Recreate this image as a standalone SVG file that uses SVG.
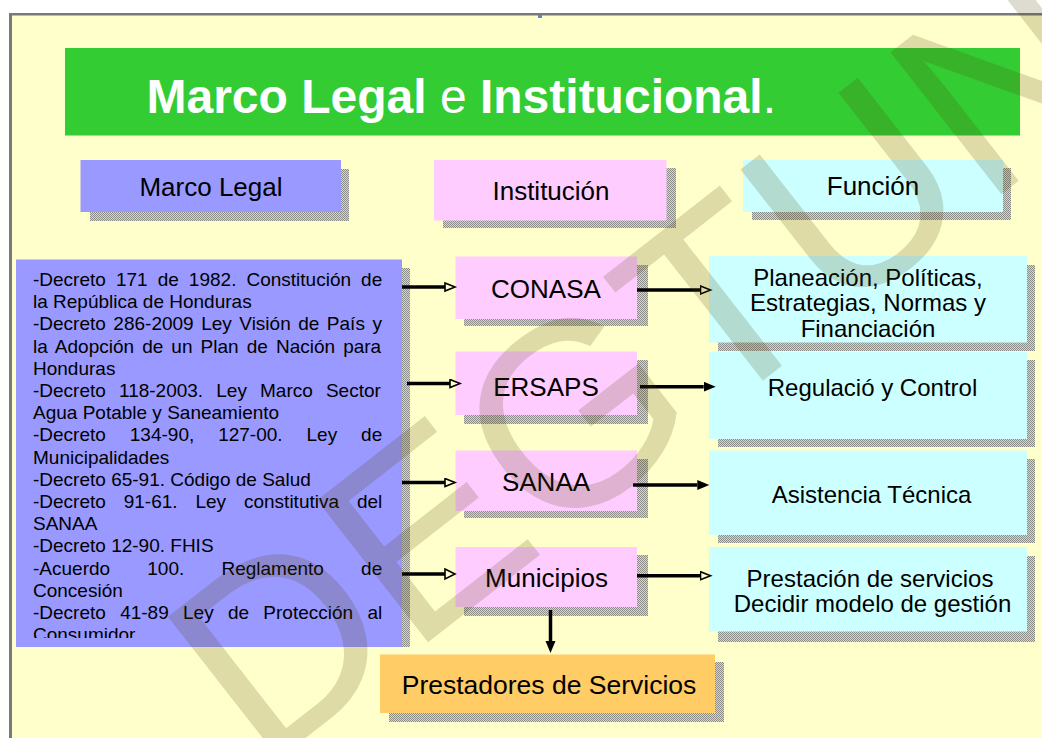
<svg xmlns="http://www.w3.org/2000/svg" width="1042" height="738" viewBox="0 0 1042 738">
<defs>
<pattern id="dots" width="2" height="2" patternUnits="userSpaceOnUse">
<rect width="2" height="2" fill="#d6d6cc"/>
<rect width="1" height="1" fill="#8c8c88"/>
<rect x="1" y="1" width="1" height="1" fill="#8c8c88"/>
</pattern>
<marker id="ah" markerUnits="userSpaceOnUse" markerWidth="14" markerHeight="12" refX="1" refY="5" orient="auto">
<path d="M1,1 L11,5 L1,9 z" fill="#ffffcc" stroke="#000" stroke-width="1.6"/>
</marker>
<marker id="ahb" markerUnits="userSpaceOnUse" markerWidth="14" markerHeight="14" refX="1" refY="6" orient="auto">
<path d="M1,1 L11,6 L1,11 z" fill="#ffffcc" stroke="#000" stroke-width="1.6"/>
</marker>
<marker id="as" markerUnits="userSpaceOnUse" markerWidth="14" markerHeight="12" refX="0" refY="5" orient="auto">
<path d="M0,0 L12,5 L0,10 z" fill="#000"/>
</marker>
<clipPath id="clipMain"><rect x="16" y="259" width="386" height="379"/></clipPath>
</defs>
<style>
text{font-family:"Liberation Sans",Arial,sans-serif;fill:#000}
.title{font-size:48px;font-weight:bold;fill:#fff}
.hdr{font-size:26px;text-anchor:middle}
.inst{font-size:26px;text-anchor:middle}
.fn{font-size:24px;text-anchor:middle}
.law{font-size:19px}
.sh{fill:url(#dots)}
.blue{fill:#9999ff}
.pink{fill:#ffccff}
.cyan{fill:#ccffff}
.orange{fill:#ffcc66}
.conn path{fill:none;stroke:#000;stroke-width:3.5}
.wm{font-size:262px;fill:#4d4000;opacity:0.18}
</style>
<rect width="1042" height="738" fill="#ffffff"/>
<rect x="9" y="13" width="1033" height="725" fill="#ffffcc"/>
<rect x="9" y="13" width="1033" height="2.5" fill="#7a7a7a"/>
<rect x="9" y="13" width="3" height="725" fill="#7a7a7a"/>
<rect x="538" y="15" width="4" height="3" fill="#6a80b8"/>

<g id="title">
<rect x="65" y="48" width="955" height="87.5" fill="#33cc33"/>
<text x="146.5" y="112.5" class="title">Marco Legal <tspan font-weight="normal">e</tspan> Institucional<tspan font-weight="normal">.</tspan></text>
</g>

<g id="hdr-marco">
<rect x="90" y="169" width="259" height="52" class="sh"/>
<rect x="80.5" y="160" width="260.5" height="52" class="blue"/>
<text x="211" y="195.5" class="hdr">Marco Legal</text>
</g>
<g id="hdr-inst">
<rect x="443" y="168" width="233" height="60" class="sh"/>
<rect x="434" y="160" width="232.5" height="60.5" class="pink"/>
<text x="551" y="200" class="hdr">Institución</text>
</g>
<g id="hdr-func">
<rect x="752" y="168" width="259" height="52" class="sh"/>
<rect x="743" y="160" width="260" height="52" class="cyan"/>
<text x="873" y="194.5" class="hdr">Función</text>
</g>

<g id="marco-legal">
<rect x="402" y="268" width="8" height="379" class="sh"/>
<rect x="16" y="259.5" width="386" height="387.5" class="blue"/>
<g clip-path="url(#clipMain)">
<text x="33" y="286" class="law" word-spacing="4.78">-Decreto 171 de 1982. Constitución de</text>
<text x="33" y="308.2" class="law">la República de Honduras</text>
<text x="33" y="330.4" class="law" word-spacing="2.23">-Decreto 286-2009 Ley Visión de País y</text>
<text x="33" y="352.6" class="law" word-spacing="2.81">la Adopción de un Plan de Nación para</text>
<text x="33" y="374.8" class="law">Honduras</text>
<text x="33" y="397" class="law" word-spacing="7.84">-Decreto 118-2003. Ley Marco Sector</text>
<text x="33" y="419.2" class="law">Agua Potable y Saneamiento</text>
<text x="33" y="441.4" class="law" word-spacing="18.65">-Decreto 134-90, 127-00. Ley de</text>
<text x="33" y="463.6" class="law">Municipalidades</text>
<text x="33" y="485.8" class="law">-Decreto 65-91. Código de Salud</text>
<text x="33" y="508" class="law" word-spacing="12.59">-Decreto 91-61. Ley constitutiva del</text>
<text x="33" y="530.2" class="law">SANAA</text>
<text x="33" y="552.4" class="law">-Decreto 12-90. FHIS</text>
<text x="33" y="574.6" class="law" word-spacing="31.9">-Acuerdo 100. Reglamento de</text>
<text x="33" y="596.8" class="law">Concesión</text>
<text x="33" y="619" class="law" word-spacing="9.01">-Decreto 41-89 Ley de Protección al</text>
<text x="33" y="641.2" class="law">Consumidor</text>
</g>
</g>

<g id="conasa">
<rect x="464" y="265" width="184" height="61" class="sh"/>
<rect x="455.5" y="256.5" width="181.5" height="62.5" class="pink"/>
<text x="546" y="298" class="inst">CONASA</text>
</g>
<g id="ersaps">
<rect x="464" y="360" width="184" height="64" class="sh"/>
<rect x="455.5" y="351.5" width="181.5" height="63.5" class="pink"/>
<text x="546" y="395.5" class="inst">ERSAPS</text>
</g>
<g id="sanaa">
<rect x="464" y="459" width="184" height="59" class="sh"/>
<rect x="455.5" y="450.5" width="181.5" height="60.5" class="pink"/>
<text x="546" y="490.5" class="inst">SANAA</text>
</g>
<g id="municipios">
<rect x="464" y="555" width="184" height="61" class="sh"/>
<rect x="455.5" y="547" width="181.5" height="60" class="pink"/>
<text x="546.5" y="586.5" class="inst">Municipios</text>
</g>

<g id="f-planeacion">
<rect x="718" y="265" width="317" height="86" class="sh"/>
<rect x="709" y="256" width="318" height="86.5" class="cyan"/>
<text x="868" y="285.5" class="fn">Planeación, Políticas,</text>
<text x="868" y="311" class="fn">Estrategias, Normas y</text>
<text x="868" y="336.5" class="fn">Financiación</text>
</g>
<g id="f-regulacion">
<rect x="718" y="360" width="317" height="87" class="sh"/>
<rect x="709" y="351.5" width="318" height="87.5" class="cyan"/>
<text x="872.5" y="396" class="fn">Regulació y Control</text>
</g>
<g id="f-asistencia">
<rect x="718" y="459" width="317" height="84" class="sh"/>
<rect x="709" y="450.5" width="318" height="84.5" class="cyan"/>
<text x="871.5" y="502.5" class="fn">Asistencia Técnica</text>
</g>
<g id="f-prestacion">
<rect x="718" y="556" width="317" height="86" class="sh"/>
<rect x="709" y="547" width="318" height="84.5" class="cyan"/>
<text x="870" y="586.5" class="fn">Prestación de servicios</text>
<text x="872.5" y="611.5" class="fn">Decidir modelo de gestión</text>
</g>

<g id="prestadores">
<rect x="389" y="662" width="335" height="60" class="sh"/>
<rect x="380" y="654.5" width="335" height="58.5" class="orange"/>
<text x="549" y="693.5" font-size="26.5" text-anchor="middle">Prestadores de Servicios</text>
</g>

<g id="connectors" class="conn">
<path d="M402,287 H445" marker-end="url(#ah)"/>
<path d="M407,383.5 H450" marker-end="url(#ah)"/>
<path d="M402,482.5 H445" marker-end="url(#ah)"/>
<path d="M402,574 H445" stroke-width="6" marker-end="url(#ahb)"/>
<path d="M637,290 H700.5" marker-end="url(#ah)"/>
<path d="M640,386.7 H703.7" marker-end="url(#as)"/>
<path d="M633,485 H697.3" marker-end="url(#as)"/>
<path d="M637,575.7 H700.5" marker-end="url(#ah)"/>
<path d="M550.5,610 V641" marker-end="url(#as)"/>
</g>

<text class="wm" transform="translate(262,772) rotate(-38)">DEGTUNAH</text>
</svg>
